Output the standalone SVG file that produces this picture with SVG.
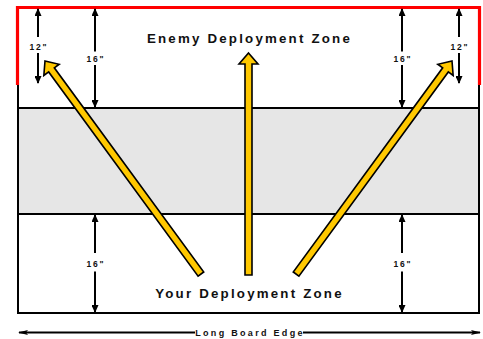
<svg xmlns="http://www.w3.org/2000/svg" width="483" height="339" viewBox="0 0 483 339">
<defs>
<style>
.zone{font-family:"Liberation Sans",Arial,sans-serif;font-weight:bold;font-size:13.3px;letter-spacing:2.2px;fill:#111;text-anchor:middle}
.dimt{font-family:"Liberation Sans",Arial,sans-serif;font-weight:bold;font-size:8.5px;letter-spacing:1.8px;fill:#111;text-anchor:middle}
.edge{font-family:"Liberation Sans",Arial,sans-serif;font-weight:bold;font-size:9px;letter-spacing:2.3px;fill:#111;text-anchor:middle}
.dim{stroke:#000;stroke-width:2;fill:none;marker-end:url(#ah)}
.bline{stroke:#000;stroke-width:2;fill:none}
.yarrow{fill:#FFC800;stroke:#000;stroke-width:1.6;stroke-linejoin:miter}
</style>
<marker id="ah" viewBox="0 0 8 7" refX="7" refY="3.5" markerWidth="8" markerHeight="7" markerUnits="userSpaceOnUse" orient="auto">
<path d="M0,0 L8,3.5 L0,7 z" fill="#000"/>
</marker>
<marker id="eh" viewBox="0 0 10 6" refX="9" refY="3" markerWidth="10" markerHeight="6" markerUnits="userSpaceOnUse" orient="auto-start-reverse">
<path d="M0,0.5 L10,3 L0,5.5 L2,3 z" fill="#000"/>
</marker>
</defs>
<rect width="483" height="339" fill="#fff"/>

<g id="board">
<rect x="18" y="108" width="461" height="106" fill="#e6e6e6"/>
<path class="bline" d="M18,85 V313 H479 V85"/>
<line class="bline" x1="18" y1="108" x2="479" y2="108"/>
<line class="bline" x1="18" y1="214" x2="479" y2="214"/>
<path d="M17.5,85 V7.5 H479.5 V85" fill="none" stroke="#ff0000" stroke-width="3.2"/>
</g>

<g id="enemy-zone">
<text class="zone" x="249.5" y="42.5">Enemy Deployment Zone</text>
</g>

<g id="your-zone">
<text class="zone" x="249.5" y="297.5">Your Deployment Zone</text>
</g>

<g id="dim-left-12">
<line class="dim" x1="38" y1="37" x2="38" y2="9"/>
<line class="dim" x1="38" y1="53" x2="38" y2="83"/>
<text class="dimt" x="39" y="49.5">12"</text>
</g>
<g id="dim-left-16">
<line class="dim" x1="95" y1="51.5" x2="95" y2="9"/>
<line class="dim" x1="95" y1="65" x2="95" y2="107"/>
<text class="dimt" x="96" y="62">16"</text>
</g>
<g id="dim-right-16">
<line class="dim" x1="402" y1="51.5" x2="402" y2="9"/>
<line class="dim" x1="402" y1="65" x2="402" y2="107"/>
<text class="dimt" x="403" y="62">16"</text>
</g>
<g id="dim-right-12">
<line class="dim" x1="459" y1="37" x2="459" y2="9"/>
<line class="dim" x1="459" y1="53" x2="459" y2="83"/>
<text class="dimt" x="460" y="49.5">12"</text>
</g>
<g id="dim-bottom-left-16">
<line class="dim" x1="95" y1="253" x2="95" y2="215"/>
<line class="dim" x1="95" y1="271.5" x2="95" y2="312"/>
<text class="dimt" x="96" y="267">16"</text>
</g>
<g id="dim-bottom-right-16">
<line class="dim" x1="402" y1="253" x2="402" y2="215"/>
<line class="dim" x1="402" y1="271.5" x2="402" y2="312"/>
<text class="dimt" x="403" y="267">16"</text>
</g>

<g id="long-board-edge">
<line x1="195" y1="332.5" x2="19" y2="332.5" stroke="#000" stroke-width="2" marker-end="url(#eh)"/>
<line x1="303" y1="332.5" x2="480" y2="332.5" stroke="#000" stroke-width="2" marker-end="url(#eh)"/>
<text class="edge" x="250" y="335.5">Long Board Edge</text>
</g>

<g id="connectors">
<polygon class="yarrow" transform="translate(248.5,53)" points="0,0 9.5,11 3.5,11 3.5,222 -3.5,222 -3.5,11 -9.5,11"/>
<polygon class="yarrow" transform="translate(45,61) rotate(-36.2)" points="0,0 9.5,11 3.5,11 3.5,264 -3.5,264 -3.5,11 -9.5,11"/>
<polygon class="yarrow" transform="translate(452,61) rotate(36.2)" points="0,0 9.5,11 3.5,11 3.5,264 -3.5,264 -3.5,11 -9.5,11"/>
</g>
</svg>
